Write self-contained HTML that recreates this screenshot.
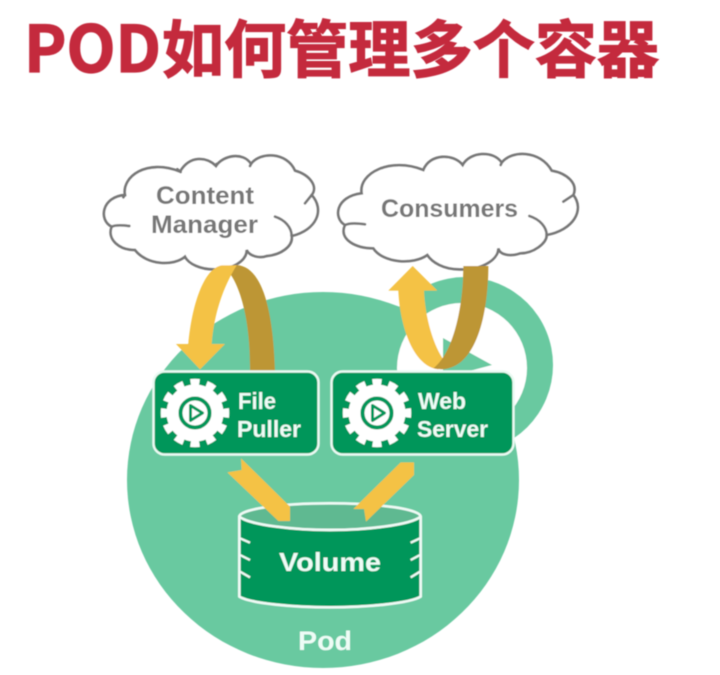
<!DOCTYPE html>
<html>
<head>
<meta charset="utf-8">
<style>
html,body{margin:0;padding:0;background:#fff;width:720px;height:675px;overflow:hidden}
svg{display:block}
text{font-family:"Liberation Sans","Noto Sans CJK SC",sans-serif;font-weight:700}
</style>
</head>
<body>
<svg width="720" height="675" viewBox="0 0 720 675" xmlns="http://www.w3.org/2000/svg">
<defs>
<filter id="b" x="-5%" y="-5%" width="110%" height="110%"><feGaussianBlur stdDeviation="0.6"/></filter>
<g id="gear">
  <circle r="28.5" fill="#fff"/>
  <circle r="31" fill="none" stroke="#fff" stroke-width="6.5" pathLength="24" stroke-dasharray="1.1 0.9" stroke-dashoffset="0.55"/>
  <circle r="14.5" fill="#fff" stroke="#03965a" stroke-width="4"/>
  <path d="M-4.5,-7.5 L7.5,0 L-4.5,7.5 Z" fill="#fff" stroke="#03965a" stroke-width="3" stroke-linejoin="round"/>
</g>
</defs>
<rect width="720" height="675" fill="#fff"/>
<g filter="url(#b)">
  <!-- title -->
  <text x="24" y="72" font-size="64" fill="#c42a3e" stroke="#c42a3e" stroke-width="1.2" textLength="137" lengthAdjust="spacingAndGlyphs" style="font-family:'Noto Sans CJK SC',sans-serif;font-weight:700">POD</text>
  <text x="162" y="72" font-size="62" fill="#c42a3e" stroke="#c42a3e" stroke-width="1.2" textLength="497" style="font-family:'Noto Sans CJK SC',sans-serif;font-weight:700">如何管理多个容器</text>

  <!-- pod -->
  <circle cx="465" cy="365" r="88" fill="#69c9a0"/>
  <ellipse cx="323" cy="480" rx="196" ry="188" fill="#69c9a0"/>
  <circle cx="462" cy="368" r="65" fill="#fff"/>
  <path d="M443,338 L492,365 L443,378 Z" fill="#69c9a0"/>

  <!-- clouds -->
  <g transform="translate(90,140) scale(.33333)" fill="#fff" stroke="#777" stroke-width="8" stroke-linecap="round">
    <path d="M105,165 C95,110 170,55 270,95 C300,45 350,50 378,78 C400,45 460,35 483,72 C510,35 590,35 615,92 C660,105 685,140 665,165 C705,210 680,270 605,288 C610,320 570,345 530,348 C510,355 480,350 470,330 C470,365 420,390 380,388 C330,390 295,370 285,350 C250,380 170,375 135,330 C90,330 50,300 65,260 C25,240 35,170 105,165 Z"/>
    <path fill="none" d="M262,88 L272,96 M378,78 L380,72 M483,72 L480,78 M665,165 L645,190 M555,230 C585,240 605,262 605,288 M65,260 C75,255 95,255 118,258 M105,165 L100,172"/>
  </g>
  <g transform="translate(330,140) scale(.33333)" fill="#fff" stroke="#777" stroke-width="8" stroke-linecap="round">
    <path d="M95,160 C85,100 180,50 280,90 C300,40 370,40 398,75 C420,35 490,30 515,68 C545,30 630,30 665,92 C710,100 745,130 730,165 C765,210 730,270 650,285 C650,310 610,340 570,340 C540,350 510,345 505,325 C505,365 440,392 395,388 C340,390 305,365 292,345 C250,375 160,370 130,325 C80,325 25,300 45,255 C10,235 15,170 95,160 Z"/>
    <path fill="none" d="M730,165 L700,185 M598,228 C630,238 650,262 650,285 M45,255 C60,248 85,250 105,253 M515,68 L512,75 M398,75 L398,72"/>
  </g>

  <!-- left curved arrow -->
  <g transform="translate(90,140) scale(.33333)">
    <path d="M480,692 L555,692 C550,520 520,380 440,375 L395,378 C440,400 482,520 480,692 Z" fill="#bd9636"/>
    <path d="M395,376 L440,376 C400,440 372,520 365,612 L405,612 L330,688 L258,612 L295,612 C305,500 340,385 395,376 Z" fill="#f4c244"/>
  </g>
  <!-- right curved arrow -->
  <g transform="translate(330,140) scale(.33333)">
    <path d="M205,452 L175,452 L248,378 L322,452 L282,452 C285,530 310,620 345,665 L325,688 C250,680 210,560 205,452 Z" fill="#f4c244"/>
    <path d="M400,378 L475,378 C475,520 440,685 335,688 L310,685 C370,640 400,500 400,378 Z" fill="#bd9636"/>
  </g>

  <!-- boxes -->
  <rect x="153.5" y="371.5" width="165" height="83" rx="11" fill="#03965a" stroke="#eafaf3" stroke-width="2.4"/>
  <rect x="331.5" y="371.5" width="182" height="83" rx="11" fill="#03965a" stroke="#eafaf3" stroke-width="2.4"/>
  <use href="#gear" x="195" y="413"/>
  <use href="#gear" x="377" y="413"/>
  <text x="238" y="409" font-size="23" fill="#eefcf6" textLength="38" lengthAdjust="spacingAndGlyphs">File</text>
  <text x="237" y="437" font-size="23" fill="#eefcf6" textLength="64" lengthAdjust="spacingAndGlyphs">Puller</text>
  <text x="418" y="409" font-size="23" fill="#eefcf6" textLength="48" lengthAdjust="spacingAndGlyphs">Web</text>
  <text x="417" y="437" font-size="23" fill="#eefcf6" textLength="71" lengthAdjust="spacingAndGlyphs">Server</text>

  <!-- volume -->
  <g transform="translate(210,490) scale(.33333)">
    <ellipse cx="360" cy="80" rx="272" ry="40" fill="#5eb991" stroke="#eefaf5" stroke-width="8"/>
    <path d="M88,80 C120,105 250,120 360,120 C470,120 600,105 632,80 L632,320 C600,340 470,352 360,352 C250,352 120,340 88,320 Z" fill="#03965a" stroke="#eefaf5" stroke-width="8" stroke-linejoin="round"/>
    <path d="M90,145 L120,158 M90,195 L120,210 M90,245 L120,262 M630,145 L602,158 M630,195 L602,210 M630,245 L602,262" stroke="#eefaf5" stroke-width="7" fill="none"/>
  </g>

  <!-- straight arrows -->
  <g transform="translate(140,365) scale(.33333)" fill="#f4c244">
    <path d="M303,280 L450,425 L450,468 L415,468 L262,322 L305,315 Z"/>
    <path d="M782,292 L822,292 L822,330 L678,470 L672,432 L640,432 Z"/>
  </g>

  <!-- labels -->
  <text x="156" y="204" font-size="25" fill="#777" textLength="98" lengthAdjust="spacingAndGlyphs">Content</text>
  <text x="151" y="233" font-size="25" fill="#777" textLength="107" lengthAdjust="spacingAndGlyphs">Manager</text>
  <text x="381" y="217" font-size="25" fill="#777" textLength="137" lengthAdjust="spacingAndGlyphs">Consumers</text>
  <text x="279" y="571" font-size="26" fill="#eefcf6" textLength="102" lengthAdjust="spacingAndGlyphs">Volume</text>
  <text x="298" y="650" font-size="27" fill="#eefcf6" textLength="54" lengthAdjust="spacingAndGlyphs">Pod</text>
</g>
</svg>
</body>
</html>
